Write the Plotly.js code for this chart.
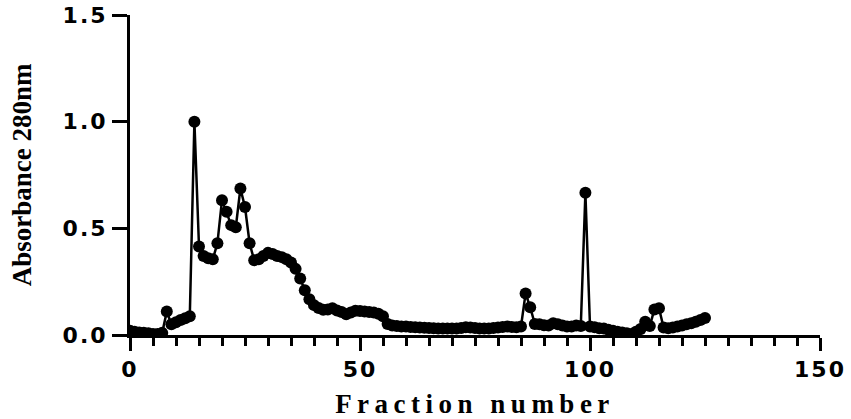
<!DOCTYPE html>
<html>
<head>
<meta charset="utf-8">
<script src="https://cdn.plot.ly/plotly-3.0.1.min.js"></script>
<style>
html, body { margin: 0; padding: 0; background: #fff; }
#chart { width: 851px; height: 419px; }
.xtick text { letter-spacing: 2px; }
.ytick text { letter-spacing: 2px; }
.xtitle { letter-spacing: 5.5px; }
</style>
</head>
<body>
<div id="chart"></div>
<script>
// Fraction numbers
const fraction = [
  0,1,2,3,4,5,6,7,8,9,10,11,12,13,14,15,16,17,18,19,
  20,21,22,23,24,25,26,27,28,29,30,31,32,33,34,35,36,37,38,39,
  40,41,42,43,44,45,46,47,48,49,50,51,52,53,54,55,56,57,58,59,
  60,61,62,63,64,65,66,67,68,69,70,71,72,73,74,75,76,77,78,79,
  80,81,82,83,84,85,86,87,88,89,90,91,92,93,94,95,96,97,98,99,
  100,101,102,103,104,105,106,107,108,109,110,111,112,113,114,115,116,117,118,119,
  120,121,122,123,124,125
];
// Absorbance at 280 nm
const absorbance = [
  0.020,0.015,0.012,0.010,0.008,0.005,0.005,0.010,0.110,0.050,
  0.060,0.070,0.078,0.088,1.000,0.415,0.370,0.360,0.355,0.430,
  0.632,0.578,0.515,0.505,0.687,0.600,0.430,0.350,0.355,0.370,
  0.385,0.380,0.370,0.365,0.355,0.340,0.310,0.265,0.210,0.168,
  0.140,0.127,0.118,0.120,0.125,0.115,0.108,0.097,0.105,0.114,
  0.112,0.110,0.108,0.105,0.100,0.088,0.052,0.045,0.042,0.040,
  0.040,0.037,0.036,0.035,0.034,0.033,0.032,0.031,0.030,0.030,
  0.030,0.031,0.033,0.036,0.035,0.033,0.031,0.030,0.031,0.033,
  0.035,0.038,0.040,0.038,0.036,0.040,0.195,0.130,0.052,0.050,
  0.046,0.045,0.055,0.050,0.045,0.040,0.040,0.045,0.042,0.667,
  0.040,0.036,0.032,0.030,0.025,0.020,0.015,0.012,0.008,0.005,
  0.015,0.028,0.062,0.042,0.120,0.125,0.035,0.032,0.035,0.040,
  0.045,0.050,0.055,0.062,0.070,0.080
];
const xTickVals = [0, 50, 100, 150];
const yTickVals = [0, 0.5, 1.0, 1.5];
const yTickText = ['0.0', '0.5', '1.0', '1.5'];

const trace = {
  x: fraction,
  y: absorbance,
  type: 'scatter',
  mode: 'lines+markers',
  line: { color: '#000', width: 2.5 },
  marker: { color: '#000', size: 12, symbol: 'circle' },
  cliponaxis: true,
  hoverinfo: 'x+y'
};

const tickFont = { family: 'DejaVu Sans, Arial, sans-serif', size: 22, color: '#000', weight: 'bold' };
const titleFont = { family: 'Liberation Serif, Times New Roman, serif', size: 27, color: '#000', weight: 'bold' };

const layout = {
  width: 851,
  height: 419,
  margin: { l: 130, r: 31, t: 15, b: 84 },
  paper_bgcolor: '#fff',
  plot_bgcolor: '#fff',
  showlegend: false,
  xaxis: {
    range: [0, 150],
    tickmode: 'array',
    tickvals: xTickVals,
    ticktext: xTickVals.map(String),
    ticks: 'outside',
    ticklen: 13,
    tickwidth: 3,
    tickcolor: '#000',
    minor: { dtick: 5, ticks: 'outside', ticklen: 8, tickwidth: 3, tickcolor: '#000', showgrid: false },
    showline: true,
    linecolor: '#000',
    linewidth: 3,
    showgrid: false,
    zeroline: false,
    tickfont: tickFont,
    title: { text: 'Fraction number', font: titleFont, standoff: 14 }
  },
  yaxis: {
    range: [0, 1.5],
    tickmode: 'array',
    tickvals: yTickVals,
    ticktext: yTickText,
    ticks: 'outside',
    ticklen: 15,
    tickwidth: 3,
    tickcolor: '#000',
    showline: true,
    linecolor: '#000',
    linewidth: 3,
    showgrid: false,
    zeroline: false,
    tickfont: tickFont,
    title: { text: 'Absorbance 280nm', font: titleFont, standoff: 24 }
  }
};

Plotly.newPlot('chart', [trace], layout, { displayModeBar: false, staticPlot: true });
</script>
</body>
</html>
